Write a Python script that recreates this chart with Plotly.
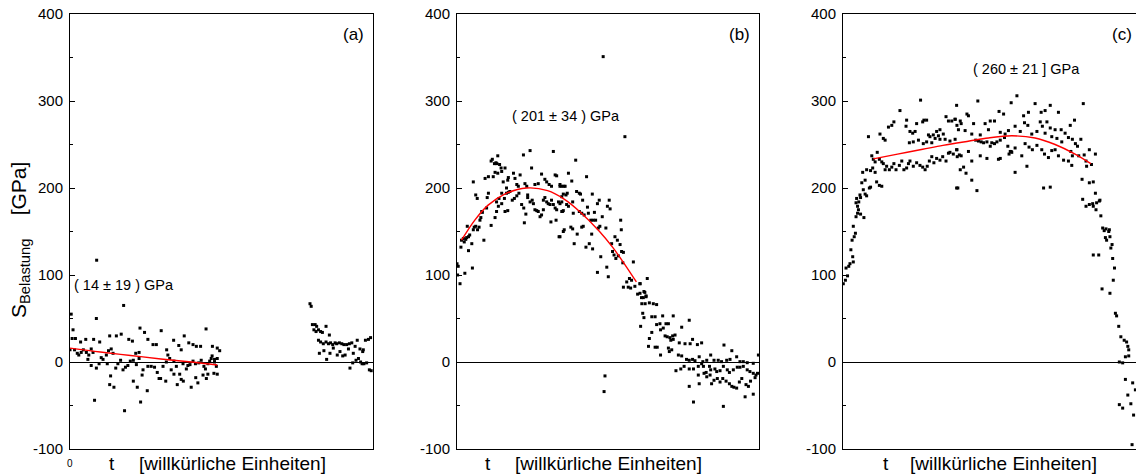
import plotly.graph_objects as go

# ---------------- data (t in arbitrary units 0..100, S in GPa) ----------------
# panel (a)
ta1 = [8.8,17.7,8.7,0.4,1.0,0.7,1.8,3.5,5.2,7.8,9.8,13.1,15.3,16.9,19.4,20.6,23.1,24.6,25.7,27.4,28.5,30.1,31.9,34.2,35.9,36.7,37.7,39.2,40.6,41.7,43.1,44.9,47.0,48.6,49.4]
va1 = [117,65,50,55,37,27,27,23,26,26,23,30,30,32,26,24,39,34,26,20,20,36,14,25,19,14,30,22,20,18,18,38,18,16,13]
ta2 = [0,1.5,2.4,2.9,3.7,4.4,5.4,6.2,7.0,7.6,5.9,7.0,8.7,9.6,10.3,10.9,12.0,12.7,13.6,14.2]
va2 = [14,14,10,8,11,14,11,8,15,11,3,-4,-7,-2,5,3,8,13,15,10]
ta3 = [12.3,13.1,14.5,13.4,15.1,15.8,16.7,17.5,18.3,19.1,19.9,20.9,21.7,22.8,21.9,22.8,8.1,18.0,20.9,22.2,23.3,23.8,25.5]
va3 = [-2,-26,-29,-16,-7,-2,2,-9,-6,-4,1,2,10,11,-3,4,-44,-56,-22,-29,-46,-15,-33]
ta4 = [24.1,25.7,26.8,27.9,28.8,29.9,30.7,31.8,32.3,32.9,34.3,35.1,36.2,36.7,37.3,38.4,38.9,39.6,40.6,41.4,42.5,43.3,44.2,45.5,46.6,47.7,48.6]
va4 = [-9,-5,-5,-6,-12,-19,-5,0,8,4,1,-5,-14,-20,-2,-8,-4,-3,1,-2,-1,2,-5,-2,4,0,4]
ta5 = [29.4,31.6,33.4,34.3,35.4,37.4,40.0,41.5,42.2,43.9,45.0,45.5,44.7,47.5,48.6,48.3,47.7,46.9,46.1]
va5 = [-19,-22,-9,-14,-26,-22,-29,-18,-24,-15,-19,-14,-8,-13,-14,-5,3,7,1]
ta6 = [79.2,79.6,80.0,80.9,81.4,80.5,81.2,82.0,82.7,83.3,84.5,85.6]
va6 = [67,64,43,43,41,37,35,37,35,34,41,31]
ta7 = [82.0,82.7,83.6,84.5,85.3,86.0,86.7,87.5,88.0,88.9,89.7,90.4,91.3,92.2,93.0,94.1,94.8,95.7,96.6,97.5,98.5,99.2]
va7 = [25,23,21,23,21,22,20,22,21,22,21,20,20,21,22,18,25,15,12,25,26,28]
ta8 = [82.3,83.8,84.7,85.8,86.9,88.2,89.1,90.0,90.8,91.9,92.4,93.3,94.4,95.2,95.9,96.4,97.0,97.9,98.8,99.4,96.8,93.5]
va8 = [10,13,3,10,16,8,12,7,8,15,-7,-1,2,4,0,-2,-2,-1,-9,-10,14,10]
fit_a_t = [0, 10, 20, 30, 40, 48.6]
fit_a_v = [16, 11.5, 7.5, 3.5, 0, -3.5]

# panel (b)
tb1 = [0,0.4,1.0,0.2,1.5,2.1,2.4,2.9,3.2,3.8,4.2,1.3,2.6,3.8,3.4,4.9,5.1,5.4,5.7,6.2,6.8,7.3,7.6,7.9,8.2,8.4,5.4,6.2,6.7,8.9,9.3,9.8,10.0,10.4]
vb1 = [113,110,90,100,140,142,138,141,143,144,146,132,102,128,156,136,108,152,155,156,152,155,163,166,173,172,207,192,188,140,211,177,189,194]
tb2 = [10.4,11.3,11.7,12.0,12.4,12.6,12.9,13.2,13.5,13.5,14.1,14.6,14.8,15.3,15.9,16.4,16.8,17.0]
vb2 = [213,231,233,213,228,218,229,228,237,217,227,223,219,207,223,200,209,212]
tb3 = [11.3,12.6,13.1,13.7,14.8,15.7,16.4,17.0,13.1,13.9,14.8,15.9,16.8]
vb3 = [157,166,173,179,182,188,194,195,184,188,194,173,174]
tb4 = [17.5,18.3,19.0,19.8,20.5,21.4,22.1,22.8,22.3,23.4,23.4,24.2,24.9,25.3,25.8,26.4,26.9,27.5,28.0,28.6,29.1,29.7,30.2,30.8,31.3,31.9,32.5,33.0,33.6,34.1,34.7,35.2,35.5,34.9,32.8,33.8,31.1,28.6]
vb4 = [196,186,188,191,194,181,177,170,160,192,189,184,186,182,175,174,173,167,169,186,189,184,182,181,186,181,177,175,184,182,190,174,152,173,163,144,161,175]
tb5 = [18.7,19.2,19.8,20.3,22.0,22.5,23.1,24.2,24.7,25.8,26.9,28.0,29.1,29.7,30.5,31.3,31.9,32.5,33.0,34.1,34.7,35.8,20.9]
vb5 = [217,211,204,202,238,205,202,243,223,204,205,216,210,207,204,202,242,215,214,204,202,202,215]
tb6 = [48.4,55.6,39.3,36.9,42.9,38.0,49.0,48.7]
vb6 = [351,259,232,217,213,208,-16,-34]
tb7 = [34.1,35.4,39.6,40.5,40.9,35.2,36.1,36.5,44.8,34.7,36.3,36.9,38.3,38.5,41.6,47.1,46.5,50.4,49.8,50.7,43.2,45.5,48.1]
vb7 = [202,202,196,194,193,193,192,194,193,184,181,179,184,171,186,186,182,186,179,176,178,172,167]
tb8 = [40.5,41.3,42.1,43.5,44.3,45.1,45.9,47.3,46.8,49.3,34.7,35.2,37.7,38.3,41.3,41.8,44.6,39.8,38.8,42.7,43.8,44.9,34.1]
vb8 = [173,171,169,171,163,163,163,156,154,154,173,150,155,153,155,156,147,147,136,132,136,130,144]
tb9 = [54.2,54.4,52.3,53.1,54.0,51.2,51.5,52.0,52.6,53.4,54.9,54.5,55.1,47.6,49.6,46.5,50.1,58.4,56.2,57.1,57.8,56.7,57.5,58.9,60.6,63.0,55.1,60.6,59.8,62.2,62.6,61.1]
vb9 = [163,152,144,140,135,136,127,123,119,122,114,127,126,121,109,103,98,115,92,96,94,86,85,87,90,96,86,79,78,80,75,74]
tb10 = [60.6,61.9,62.6,61.7,61.2,62.3,63.7,65.0,66.1,61.5,61.9,64.5,65.6,68.1,71.6,60.8,66.1,67.2,69.2,70.0,67.4,68.3,74.4,76.9]
vb10 = [90,81,76,74,67,67,68,67,66,56,51,52,52,53,53,41,43,44,44,44,37,39,40,48]
tb11 = [68.9,69.6,70.5,71.4,72.2,70.8,71.6,64.5,63.7,63.4,65.6,66.3,70.0,71.1,70.3,67.4,73.6,75.5,77.2,78.0,79.6,81.0]
vb11 = [30,29,28,30,31,25,26,34,27,18,17,17,16,14,12,8,22,21,21,26,20,22]
tb12 = [73.3,74.4,76.0,76.9,78.0,78.8,80.2,81.4,82.7,84.0,85.1,86.5,87.6,88.4,89.3,90.4,91.0,92.6,93.7,94.8,96.1,98.1,99.8]
vb12 = [8,7,3,2,3,1.5,6,0.4,2,8,2,2,0.4,19.5,2,3,13,6,0.4,0.4,-0.8,-1.5,8]
tb13 = [72.5,74.1,75.2,76.9,78.3,79.9,81.0,81.6,82.5,83.6,84.0,85.4,86.0,87.1,88.2,89.5,90.2,91.5,92.8,93.7,94.8,96.1,97.0,98.1,99.0,99.5]
vb13 = [-10,-8,-5,-8,-8,-5,-2,-5,-12,-5,-9,-8,-11,-10,-5,-9,-12,-9,-6,-6,-5,-9,-11,-13,-15,-13]
tb14 = [79.9,81.8,82.7,83.8,84.3,85.1,86.2,87.1,88.0,89.1,90.2,91.0,91.7,92.6,93.5,94.3,95.7,96.5,97.2,98.7,76.9,80.2,78.3,88.2,95.4,98.1]
vb14 = [-15,-13,-17,-15,-25,-21,-19,-23,-19,-22,-25,-28,-29,-30,-23,-19,-26,-28,-22,-18,-28,-25,-46,-51,-40,-37]
fit_b_t = [1.5, 5.9, 10.2, 15.8, 23, 30, 35.6, 40.6, 47.2, 51.5, 54.8, 59.4]
fit_b_v = [140, 163, 180, 193, 200, 197, 187, 173, 150, 132, 116, 92]

# panel (c)
tc1 = [0.1,0.8,1.5,1.0,1.9,2.3,2.6,3.2,3.4,3.0,3.7,3.4,4.1,4.3,4.8,5.2,5.6,4.8]
vc1 = [90,94,99,108,110,113,129,121,115,140,144,156,148,167,179,184,192,171]
tc2 = [4.3,5.1,5.8,6.9,4.5,5.8,7.3,6.7,7.8,8.7,9.1,6.2,7.3,6.5,7.8,9.1,9.8,10.6,11.1,12.0,12.8,8.4]
vc2 = [183,175,170,166,188,189,193,198,191,200,201,206,209,218,221,220,223,218,207,203,202,259]
tc3 = [9.5,10.0,10.6,11.3,12.0,12.8,13.3,13.9,14.4,15.3,16.1,16.8,17.5,18.6,19.4,20.1,21.0,21.6,22.1,23.2,24.3,25.4,26.3,27.1,27.8,28.5,29.3,30.0,30.9,32.0,32.9,34.0,34.8,35.3,36.4,37.5,38.4,37.7]
vc3 = [237,233,230,241,233,230,228,221,225,221,224,228,221,226,231,221,223,228,231,225,229,226,224,221,225,231,236,229,234,232,236,231,240,241,239,244,238,236]
tc4 = [12.2,13.3,13.9,15.0,16.1,16.8,18.8,20.8,21.0,22.1,23.0,23.8,24.3,26.3,26.7,27.6,28.2,28.7,29.8,30.9,31.5,32.0,33.1,34.0,34.8,35.9,37.0,37.5,38.1,25.6,21.9,23.2,24.9,26.5,27.6,29.3,30.4,32.0,33.7,35.3,37.0,37.5]
vc4 = [262,257,255,270,272,276,289,271,278,265,263,265,274,276,278,278,261,259,261,265,260,267,262,282,277,277,279,295,267,301,252,253,255,251,253,252,257,256,256,254,256,200]
tc5 = [44.5,57.4,55.5,63.4,68.4,66.7,65.4,51.5,53.0,59.6,61.2,71.1,75.0,76.4,40.9,41.4]
vc5 = [300,306,298,297,295,289,287,288,285,283,287,287,272,278,285,283]
tc6 = [37.0,38.7,37.6,39.0,40.3,42.5,43.1,45.3,46.9,48.0,48.6,50.0,51.9,53.5,54.6,56.8,58.5,59.9,61.0,62.3,64.0,65.1,65.8,67.3,68.4,70.0,72.0,73.3,74.4,75.7,72.2,70.6,68.9,66.7]
vc6 = [279,277,272,274,266,262,274,261,274,267,277,277,264,262,266,271,265,275,272,262,265,276,271,276,269,267,267,263,258,256,253,257,259,263]
tc7 = [43.8,44.7,45.6,46.4,47.5,48.6,49.1,50.0,50.8,51.9,53.3,54.4,55.2,54.8,55.7,56.8,59.0,60.1,61.4,62.5,64.0,65.6,66.5,67.8,68.9,70.0,71.1,72.8,74.4,75.7,75.5,41.4,42.5,45.3,47.5,51.3,51.9,55.5,39.0,37.6,39.8,38.7,40.6,42.5,60.7,56.8,66.2,68.4,44.2,37.9]
vc7 = [255,254,253,252,253,248,252,251,253,255,258,248,242,239,241,246,237,251,247,244,249,244,239,235,243,244,237,232,231,237,226,242,231,237,234,233,234,242,237,244,224,221,217,209,225,218,200,201,197,200]
tc8 = [79.3,78.5,77.4,76.7,75.2,77.8,79.6,80.2,81.3,83.3,80.4,78.9,79.1,80.2,81.3,82.4,82.6,83.3,83.7,84.6,84.8,83.5,81.3,82.6,82.0]
vc8 = [297,256,248,251,242,237,238,231,244,239,225,210,187,179,181,182,179,194,183,185,186,175,206,207,227]
tc9 = [85.1,85.7,86.2,86.8,87.7,88.1,87.9,86.6,87.0,88.4,88.8,89.0,89.6,89.2,82.6,84.4,85.5,88.1,89.9,90.3,91.0,91.7,92.8,93.6,94.0,94.3,91.2,92.3,93.2,94.3,91.2,92.3,93.2,94.0,95.0,95.6,95.9,96.5,95.4]
vc9 = [168,154,151,153,150,144,152,143,140,131,135,119,108,94,123,123,84,79,56,53,41,29,25,23,18,14,0,-1,6,7,-49,-53,-20,-38,-48,-24,-61,-32,-95]
fit_c_t = [10, 18, 26.3, 33, 41.7, 48, 55.7, 63.4, 70, 76.6, 81.8]
fit_c_v = [233.5, 239, 244.5, 249, 254, 257.5, 260, 257.5, 250, 239, 228]

y_ticks = [-100, 0, 100, 200, 300, 400]
y_tick_text = ["-100", "0", "100", "200", "300", "400"]
panel_labels = ["(a)", "(b)", "(c)"]
fit_labels = ["( 14 \u00b1 19 ) GPa", "( 201 \u00b1 34 ) GPa", "( 260 \u00b1 21 ] GPa"]

# ---------------- figure ----------------
W, H = 1136, 474
FONT = "Liberation Sans, Arial, sans-serif"


def px(x, y):
    return x / W, 1 - y / H


panels = [
    (ta1 + ta2 + ta3 + ta4 + ta5 + ta6 + ta7 + ta8,
     va1 + va2 + va3 + va4 + va5 + va6 + va7 + va8, fit_a_t, fit_a_v),
    (tb1 + tb2 + tb3 + tb4 + tb5 + tb6 + tb7 + tb8 + tb9 + tb10 + tb11 + tb12 + tb13 + tb14,
     vb1 + vb2 + vb3 + vb4 + vb5 + vb6 + vb7 + vb8 + vb9 + vb10 + vb11 + vb12 + vb13 + vb14, fit_b_t, fit_b_v),
    (tc1 + tc2 + tc3 + tc4 + tc5 + tc6 + tc7 + tc8 + tc9,
     vc1 + vc2 + vc3 + vc4 + vc5 + vc6 + vc7 + vc8 + vc9, fit_c_t, fit_c_v),
]

x_px = [(70, 373), (457, 759), (843, 1136)]
x_ranges = [[0, 100], [0, 100], [0, 96.7]]
y_dom = [1 - 449 / H, 1 - 14 / H]

fig = go.Figure()
for i, (t, v, ft, fv) in enumerate(panels):
    n = "" if i == 0 else str(i + 1)
    fig.add_trace(go.Scatter(
        x=t, y=v, mode="markers", xaxis="x" + n, yaxis="y" + n, showlegend=False,
        marker=dict(symbol="square", size=3, color="black", line=dict(width=0)),
        cliponaxis=True))
    fig.add_trace(go.Scatter(
        x=ft, y=fv, mode="lines", xaxis="x" + n, yaxis="y" + n, showlegend=False,
        line=dict(color="red", width=1.4, shape="spline", smoothing=1.0)))
    fig.layout["xaxis" + n] = dict(
        domain=[x_px[i][0] / W, x_px[i][1] / W], range=x_ranges[i], anchor="y" + n,
        showline=True, linecolor="black", linewidth=1, mirror=True, automargin=False,
        showgrid=False, zeroline=False, showticklabels=False, ticks="")
    fig.layout["yaxis" + n] = dict(
        domain=y_dom, range=[-100, 400], anchor="x" + n, automargin=False,
        showline=True, linecolor="black", linewidth=1, mirror=(i < 2),
        showgrid=False, zeroline=True, zerolinecolor="black", zerolinewidth=1,
        tickvals=y_ticks, ticktext=y_tick_text, ticks="inside", ticklen=5,
        tickcolor="black", tickwidth=1,
        minor=dict(ticks="inside", ticklen=3, dtick=50, tick0=0, tickcolor="black"),
        tickfont=dict(family=FONT, size=15, color="black"), ticklabelstandoff=3)

annotations = []
# panel labels
for (x, y), txt in zip([(354, 34), (739, 35), (1122, 35)], panel_labels):
    ax, ay = px(x, y)
    annotations.append(dict(x=ax, y=ay, xref="paper", yref="paper", text=txt, showarrow=False,
                            xanchor="center", yanchor="middle", font=dict(family=FONT, size=17, color="black")))
# fit labels
for (x, y), txt in zip([(124, 285), (566, 116), (1026, 69)], fit_labels):
    ax, ay = px(x, y)
    annotations.append(dict(x=ax, y=ay, xref="paper", yref="paper", text=txt, showarrow=False,
                            xanchor="center", yanchor="middle", font=dict(family=FONT, size=14.5, color="black")))
# x-axis titles
for tx, bx in [(112, 137), (488, 513), (886, 908)]:
    ax, ay = px(tx, 463)
    annotations.append(dict(x=ax, y=ay, xref="paper", yref="paper", text="t", showarrow=False,
                            xanchor="center", yanchor="middle", font=dict(family=FONT, size=19, color="black")))
    ax, ay = px(bx, 463)
    annotations.append(dict(x=ax, y=ay, xref="paper", yref="paper", text="[willkürliche Einheiten]",
                            showarrow=False, xanchor="left", yanchor="middle",
                            font=dict(family=FONT, size=19, color="black")))
# "0" below panel (a)
ax, ay = px(70, 463)
annotations.append(dict(x=ax, y=ay, xref="paper", yref="paper", text="0", showarrow=False,
                        xanchor="center", yanchor="middle", font=dict(family=FONT, size=10, color="black")))
# y-axis title
ax, ay = px(20, 240)
annotations.append(dict(x=ax, y=ay, xref="paper", yref="paper",
                        text="S<sub>Belastung</sub>\u00a0\u00a0\u00a0\u00a0[GPa]", textangle=-90,
                        showarrow=False, xanchor="center", yanchor="middle",
                        font=dict(family=FONT, size=21, color="black")))

fig.update_layout(
    width=W, height=H, autosize=False,
    margin=dict(l=0, r=0, t=0, b=0, pad=0, autoexpand=False),
    paper_bgcolor="white", plot_bgcolor="white",
    annotations=annotations, showlegend=False,
)

fig.write_html(
    "out.html",
    config={"displayModeBar": False},
    post_script="document.body.style.margin='0px';document.body.style.padding='0px';"
                "document.body.style.overflow='hidden';",
)
